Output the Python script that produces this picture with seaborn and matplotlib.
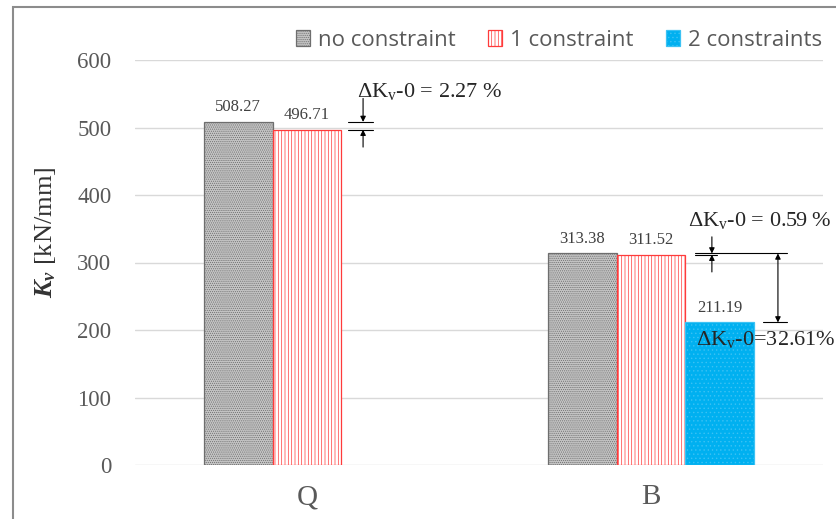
import numpy as np
import pandas as pd
import matplotlib
matplotlib.use("Agg")
import matplotlib.pyplot as plt
from matplotlib.patches import Rectangle, Patch
import seaborn as sns

# values
groups = ["Q", "B"]
series = ["no constraint", "1 constraint", "2 constraints"]
no_constraint = [508.27, 313.38]
one_constraint = [496.71, 311.52]
two_constraints = [np.nan, 211.19]
y_ticks = [0, 100, 200, 300, 400, 500, 600]

colors = {"no constraint": "#c4c4c4", "1 constraint": "#ffffff", "2 constraints": "#00b0f0"}
edges = {"no constraint": "#6e6e6e", "1 constraint": "#ff3b3b", "2 constraints": "#3cc2f4"}
hatches = {"no constraint": "........", "1 constraint": "|||||", "2 constraints": "...."}

df = pd.DataFrame({
    "group": groups * 3,
    "series": [s for s in series for _ in groups],
    "Kv": no_constraint + one_constraint + two_constraints,
})

sns.set_style("white")
plt.rcParams["font.family"] = ["Liberation Serif", "DejaVu Serif"]
plt.rcParams["mathtext.fontset"] = "custom"
plt.rcParams["mathtext.rm"] = "Liberation Serif"
plt.rcParams["mathtext.it"] = "Liberation Serif:italic:bold"
plt.rcParams["mathtext.bf"] = "Liberation Serif:bold"
plt.rcParams["hatch.linewidth"] = 0.5

fig = plt.figure(figsize=(8.36, 5.19), dpi=100)
ax = fig.add_axes([135 / 836, 1 - 465 / 519, 688 / 836, 405 / 519])

sns.barplot(data=df, x="group", y="Kv", hue="series", order=groups,
            hue_order=series, width=0.6, palette=colors, ax=ax,
            legend=False, saturation=1)

for cont, s in zip(ax.containers, series):
    for bar in cont:
        bar.set_hatch(hatches[s])
        bar.set_edgecolor(edges[s])
        bar.set_linewidth(0.9)
    labels = [f"{b.get_height():.2f}" if np.isfinite(b.get_height()) else "" for b in cont]
    ax.bar_label(cont, labels=labels, padding=5, fontsize=12, color="#404040")

ax.set_ylim(0, 600)
ax.set_xlim(-0.5, 1.5)
ax.set_yticks(y_ticks)
ax.grid(axis="y", color="#d9d9d9", lw=1)
ax.set_axisbelow(True)
for sp in ax.spines.values():
    sp.set_visible(False)
ax.tick_params(axis="y", length=0, pad=17, labelsize=16.5, labelcolor="#595959")
ax.tick_params(axis="x", length=0, pad=14, labelsize=21, labelcolor="#595959")
ax.set_xlabel("")
ax.set_ylabel(r"$K_v$ [kN/mm]", fontsize=19, color="#333333")
ax.yaxis.set_label_coords(-0.112, 0.575)

# difference markers
arr = dict(arrowstyle="-|>", color="black", lw=0.8, mutation_scale=8, shrinkA=0, shrinkB=0)
q0, q1 = no_constraint[0], one_constraint[0]
ax.plot([0.119, 0.192], [q0, q0], color="black", lw=0.8)
ax.plot([0.119, 0.192], [q1, q1], color="black", lw=0.8)
ax.annotate("", xy=(0.163, q0), xytext=(0.163, 543), arrowprops=arr)
ax.annotate("", xy=(0.163, q1), xytext=(0.163, 471), arrowprops=arr)
ax.text(0.145, 553, "ΔK$_\\mathrm{v}$-0 = %.2f %%" % ((q0 - q1) / q0 * 100),
        fontsize=16, ha="left", va="center")

b0, b1, b2 = no_constraint[1], one_constraint[1], two_constraints[1]
ax.plot([1.128, 1.395], [b0, b0], color="black", lw=0.8)
ax.plot([1.128, 1.192], [b1, b1], color="black", lw=0.8)
ax.plot([1.326, 1.395], [b2, b2], color="black", lw=0.8)
ax.annotate("", xy=(1.177, b0), xytext=(1.177, 338), arrowprops=arr)
ax.annotate("", xy=(1.177, b1), xytext=(1.177, 286), arrowprops=arr)
ax.annotate("", xy=(1.369, b2), xytext=(1.369, b0),
            arrowprops=dict(arrowstyle="<|-|>", color="black", lw=0.8,
                            mutation_scale=8, shrinkA=0, shrinkB=0))
ax.text(1.108, 362, "ΔK$_\\mathrm{v}$-0 = %.2f %%" % ((b0 - b1) / b0 * 100),
        fontsize=16, ha="left", va="center")
ax.text(1.131, 186, "ΔK$_\\mathrm{v}$-0=%.2f%%" % ((b0 - b2) / b0 * 100),
        fontsize=16, ha="left", va="center")

handles = [Patch(facecolor=colors[s], edgecolor=edges[s], hatch=hatches[s], lw=0.9) for s in series]
fig.legend(handles, series, loc="center right", bbox_to_anchor=(831 / 836, 1 - 40 / 519),
           ncol=3, frameon=False, prop={"family": "Open Sans", "size": 16},
           labelcolor="#595959", handlelength=0.65, handleheight=0.75,
           handletextpad=0.35, columnspacing=1.45, borderaxespad=0)

fig.add_artist(Rectangle((13 / 836, -0.1), 2, 1.1 - 7 / 519, transform=fig.transFigure,
                         fill=False, ec="#8c8c8c", lw=1.5))

fig.savefig("out.png", dpi=100)
